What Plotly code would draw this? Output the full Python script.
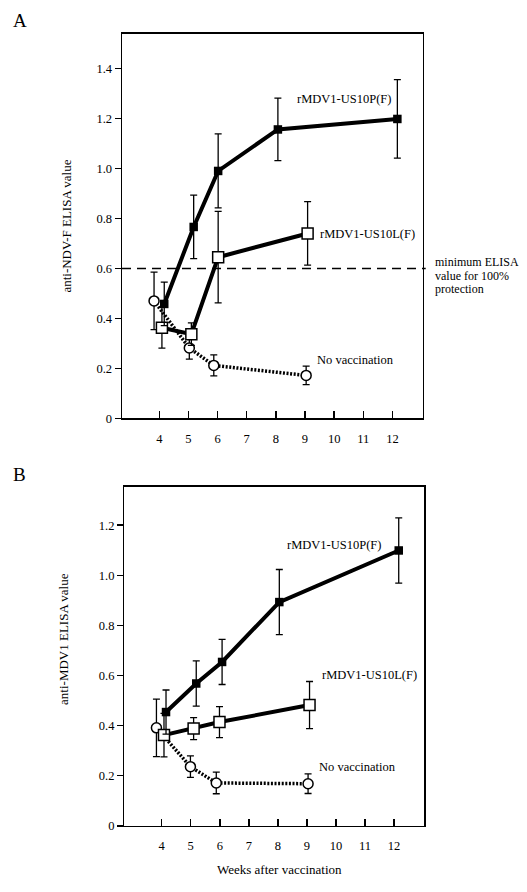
import plotly.graph_objects as go

# ---------------- data ----------------
weeks_ticks = [4, 5, 6, 7, 8, 9, 10, 11, 12]

# Panel A: anti-NDV-F ELISA
a_p_weeks = [4.17, 5.18, 6.02, 8.07, 12.17]
a_p_vals = [0.458, 0.766, 0.99, 1.156, 1.198]
a_p_err = [0.087, 0.127, 0.148, 0.125, 0.157]

a_l_weeks = [4.09, 5.10, 6.02, 9.09]
a_l_vals = [0.363, 0.337, 0.645, 0.74]
a_l_err = [0.082, 0.045, 0.183, 0.127]

a_n_weeks = [3.82, 5.03, 5.87, 9.04]
a_n_vals = [0.47, 0.282, 0.212, 0.172]
a_n_err = [0.115, 0.045, 0.042, 0.037]

a_yticks = [0, 0.2, 0.4, 0.6, 0.8, 1.0, 1.2, 1.4]
a_yticktext = ["0", "0.2", "0.4", "0.6", "0.8", "1.0", "1.2", "1.4"]
protection_level = 0.6

# Panel B: anti-MDV1 ELISA
b_p_weeks = [4.15, 5.19, 6.08, 8.05, 12.16]
b_p_vals = [0.454, 0.568, 0.654, 0.893, 1.099]
b_p_err = [0.088, 0.09, 0.09, 0.13, 0.13]

b_l_weeks = [4.08, 5.10, 5.99, 9.09]
b_l_vals = [0.362, 0.388, 0.414, 0.482]
b_l_err = [0.087, 0.044, 0.062, 0.094]

b_n_weeks = [3.82, 4.99, 5.88, 9.04]
b_n_vals = [0.391, 0.236, 0.171, 0.168]
b_n_err = [0.115, 0.043, 0.043, 0.039]

b_yticks = [0, 0.2, 0.4, 0.6, 0.8, 1.0, 1.2]
b_yticktext = ["0", "0.2", "0.4", "0.6", "0.8", "1.0", "1.2"]

label_p = "rMDV1-US10P(F)"
label_l = "rMDV1-US10L(F)"
label_n = "No vaccination"
protection_text = ["minimum ELISA", "value for 100%", "protection"]

# ---------------- styling ----------------
FONT = "Liberation Serif"
BLACK = "black"


def err(arr):
    return dict(type="data", array=arr, visible=True, color=BLACK,
                thickness=1.3, width=3.5)


def add_panel(fig, xa, ya, p_w, p_v, p_e, l_w, l_v, l_e, n_w, n_v, n_e):
    fig.add_trace(go.Scatter(
        x=n_w, y=n_v, xaxis=xa, yaxis=ya, mode="lines+markers",
        line=dict(color=BLACK, width=3.5, dash="2px,1.6px"),
        marker=dict(symbol="circle", size=10, color="white",
                    line=dict(color=BLACK, width=1.5)),
        error_y=err(n_e), showlegend=False, cliponaxis=False,
        hoverinfo="skip"))
    fig.add_trace(go.Scatter(
        x=l_w, y=l_v, xaxis=xa, yaxis=ya, mode="lines+markers",
        line=dict(color=BLACK, width=4),
        marker=dict(symbol="square", size=11, color="white",
                    line=dict(color=BLACK, width=1.5)),
        error_y=err(l_e), showlegend=False, cliponaxis=False,
        hoverinfo="skip"))
    fig.add_trace(go.Scatter(
        x=p_w, y=p_v, xaxis=xa, yaxis=ya, mode="lines+markers",
        line=dict(color=BLACK, width=4),
        marker=dict(symbol="square", size=8.5, color=BLACK,
                    line=dict(color=BLACK, width=0)),
        error_y=err(p_e), showlegend=False, cliponaxis=False,
        hoverinfo="skip"))


fig = go.Figure()
add_panel(fig, "x", "y", a_p_weeks, a_p_vals, a_p_err, a_l_weeks, a_l_vals,
          a_l_err, a_n_weeks, a_n_vals, a_n_err)
add_panel(fig, "x2", "y2", b_p_weeks, b_p_vals, b_p_err, b_l_weeks, b_l_vals,
          b_l_err, b_n_weeks, b_n_vals, b_n_err)

TICKSIZE = 12.5
xcommon = dict(range=[2.72, 13.04], tickvals=weeks_ticks,
               ticktext=[str(w) for w in weeks_ticks],
               ticks="inside", ticklen=7, tickwidth=1.5, tickcolor=BLACK,
               showline=True, linecolor=BLACK, linewidth=1.5, mirror=True,
               showgrid=False, zeroline=False, ticklabelstandoff=8,
               tickfont=dict(family=FONT, size=TICKSIZE, color=BLACK))
ycommon = dict(ticks="outside", ticklen=6, tickwidth=1.5, tickcolor=BLACK,
               showline=True, linecolor=BLACK, linewidth=1.5, mirror=True,
               showgrid=False, zeroline=False,
               tickfont=dict(family=FONT, size=TICKSIZE, color=BLACK))

fig.update_layout(
    width=527, height=892,
    margin=dict(l=0, r=0, t=0, b=0),
    paper_bgcolor="white", plot_bgcolor="white",
    font=dict(family=FONT, color=BLACK),
    hovermode=False,
    xaxis=dict(domain=[0.2315, 0.8021], anchor="y", **xcommon),
    yaxis=dict(domain=[0.5272, 0.9619], anchor="x", range=[0, 1.539],
               tickvals=a_yticks, ticktext=a_yticktext, **ycommon),
    xaxis2=dict(domain=[0.2362, 0.8051], anchor="y2", **xcommon),
    yaxis2=dict(domain=[0.0669, 0.4499], anchor="x2", range=[0, 1.353],
                tickvals=b_yticks, ticktext=b_yticktext, **ycommon),
)

# protection threshold (dashed), running slightly past the right frame
fig.add_shape(type="line", xref="x domain", yref="y", x0=0, x1=1.01,
              y0=protection_level, y1=protection_level,
              line=dict(color=BLACK, width=1.5, dash="9px,6px"))

H, W = 892.0, 527.0
LBL = 12.5
ann = []
tf = dict(family=FONT, size=LBL, color=BLACK)
# Panel A labels
ann += [
    dict(x=8.64, y=1.276, xref="x", yref="y", text=label_p, showarrow=False,
         xanchor="left", yanchor="middle", font=tf),
    dict(x=9.44, y=0.739, xref="x", yref="y", text=label_l, showarrow=False,
         xanchor="left", yanchor="middle", font=tf),
    dict(x=9.33, y=0.234, xref="x", yref="y", text=label_n, showarrow=False,
         xanchor="left", yanchor="middle", font=tf),
]
for t, yy in zip(protection_text, [0.624, 0.570, 0.516]):
    ann.append(dict(x=434.0 / W, y=yy, xref="paper", yref="y", text=t,
                    showarrow=False, xanchor="left", yanchor="middle",
                    borderpad=0,
                    font=dict(family=FONT, size=12, color=BLACK)))
# Panel B labels
ann += [
    dict(x=8.23, y=1.12, xref="x2", yref="y2", text=label_p, showarrow=False,
         xanchor="left", yanchor="middle", font=tf),
    dict(x=9.45, y=0.60, xref="x2", yref="y2", text=label_l, showarrow=False,
         xanchor="left", yanchor="middle", font=tf),
    dict(x=9.33, y=0.236, xref="x2", yref="y2", text=label_n, showarrow=False,
         xanchor="left", yanchor="middle", font=tf),
]
# Axis titles and panel letters (paper coordinates)
TT = 13
ann += [
    dict(x=65.6 / W, y=1 - 227.8 / H, xref="paper", yref="paper",
         text="anti-NDV-F ELISA value", textangle=-90, showarrow=False,
         xanchor="center", yanchor="middle",
         font=dict(family=FONT, size=TT, color=BLACK)),
    dict(x=64.0 / W, y=1 - 644.0 / H, xref="paper", yref="paper",
         text="anti-MDV1 ELISA value", textangle=-90, showarrow=False,
         xanchor="center", yanchor="middle",
         font=dict(family=FONT, size=TT, color=BLACK)),
    dict(x=279.7 / W, y=1 - 876.0 / H, xref="paper", yref="paper",
         text="Weeks after vaccination", showarrow=False,
         xanchor="center", yanchor="middle",
         font=dict(family=FONT, size=TT, color=BLACK)),
    dict(x=19.7 / W, y=1 - 21.0 / H, xref="paper", yref="paper", text="A",
         showarrow=False, xanchor="center", yanchor="middle",
         font=dict(family=FONT, size=19, color=BLACK)),
    dict(x=19.0 / W, y=1 - 478.6 / H, xref="paper", yref="paper", text="B",
         showarrow=False, xanchor="center", yanchor="middle",
         font=dict(family=FONT, size=19, color=BLACK)),
]
fig.update_layout(annotations=ann)

fig.write_html(
    "out.html",
    config={"displayModeBar": False, "staticPlot": True},
    post_script="document.body.style.margin='0px';document.body.style.padding='0px';",
)
